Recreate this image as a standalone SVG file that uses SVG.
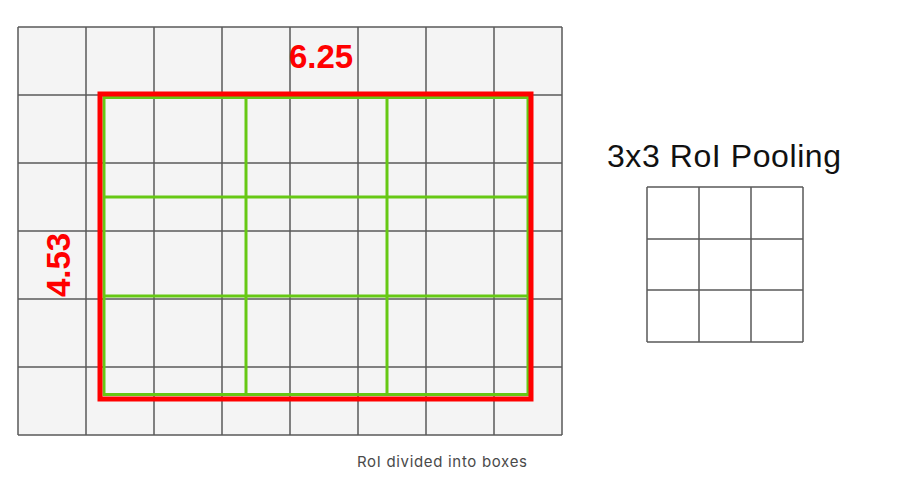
<svg xmlns="http://www.w3.org/2000/svg" width="909" height="490" viewBox="0 0 909 490">
<style>
.g{stroke:#5a5a5a;stroke-width:1.5;fill:none}
.gr{stroke:#66c814;stroke-width:3;fill:none}
.lbl{font-family:"Liberation Sans",Arial,sans-serif;font-weight:bold;font-size:33px;fill:#ff0000}
</style>
<rect width="909" height="490" fill="#ffffff"/>
<g id="feature-map">
<rect x="18" y="27" width="544" height="408" fill="#f4f4f4"/>
<path class="g" d="M18 27V435M86 27V435M154 27V435M222 27V435M290 27V435M358 27V435M426 27V435M494 27V435M562 27V435M18 27H562M18 95H562M18 163H562M18 231H562M18 299H562M18 367H562M18 435H562"/>
</g>
<g id="roi-bins">
<rect class="gr" x="104" y="97.5" width="424" height="297"/>
<path class="gr" d="M246 97.5V394.5M387 97.5V394.5M104 197H528M104 296H528"/>
</g>
<g id="roi">
<rect x="100" y="94" width="431" height="305" fill="none" stroke="#ff0000" stroke-width="5"/>
</g>
<g id="labels">
<text class="lbl" x="321" y="68" text-anchor="middle">6.25</text>
<text class="lbl" transform="translate(70 265) rotate(-90)" text-anchor="middle">4.53</text>
</g>
<g id="pooling">
<text x="607" y="167" font-family="Liberation Sans,Arial,sans-serif" font-size="32" fill="#111" textLength="234">3x3 RoI Pooling</text>
<rect x="647" y="187" width="156" height="155" fill="#ffffff"/>
<path class="g" stroke="#444" d="M647 187V342M699 187V342M751 187V342M803 187V342M647 187H803M647 239H803M647 290H803M647 342H803"/>
</g>
<g id="caption">
<text x="357" y="467" font-family="Inter,'Open Sans',sans-serif" font-size="15" fill="#4a4a4a" textLength="170">RoI divided into boxes</text>
</g>
</svg>
